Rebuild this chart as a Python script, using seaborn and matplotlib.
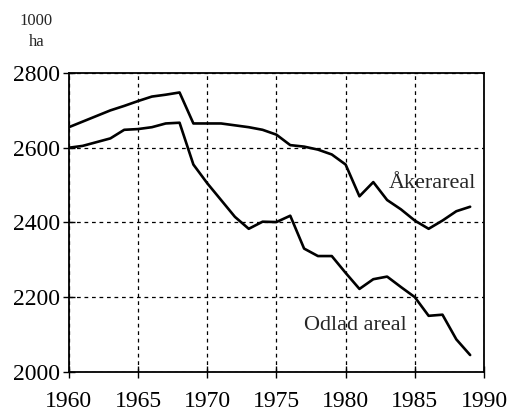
import pandas as pd
import matplotlib.pyplot as plt
import seaborn as sns

# Arealer i 1000 ha, 1960-1989
years = list(range(1960, 1990))
akerareal = [2655, 2670, 2685, 2700, 2712, 2725, 2737, 2742, 2748, 2665,
             2665, 2665, 2660, 2655, 2648, 2635, 2607, 2603, 2595, 2582,
             2555, 2470, 2508, 2460, 2435, 2405, 2383, 2405, 2430, 2442]
odlad_areal = [2600, 2605, 2615, 2625, 2648, 2650, 2655, 2665, 2667, 2555,
               2505, 2460, 2415, 2383, 2402, 2401, 2418, 2330, 2310, 2310,
               2265, 2222, 2248, 2255, 2227, 2200, 2150, 2153, 2087, 2045]

df = pd.DataFrame({'year': years, 'Åkerareal': akerareal, 'Odlad areal': odlad_areal})
long = df.melt(id_vars='year', var_name='serie', value_name='areal')

sns.set_style('ticks')
plt.rcParams['font.family'] = ['Liberation Serif', 'DejaVu Serif']

fig = plt.figure(figsize=(5.1, 4.15), dpi=100)
ax = fig.add_axes([0.135, 0.104, 0.814, 0.72])

sns.lineplot(data=long, x='year', y='areal', hue='serie',
             palette=['black', 'black'], linewidth=1.9, legend=False, ax=ax)

ax.set_xlim(1960, 1990)
ax.set_ylim(2000, 2800)
ax.set_xticks(range(1960, 1991, 5))
ax.set_yticks(range(2000, 2801, 200))
ax.tick_params(direction='inout', length=9, width=1, labelsize=17, colors='black')
ax.tick_params(axis='x', pad=9)
ax.tick_params(axis='y', pad=2)
ax.set_xlabel('')
ax.set_ylabel('')

for s in ax.spines.values():
    s.set_visible(True)
    s.set_color('black')
    s.set_linewidth(1.3)

ax.grid(True, color='black', linestyle=(0, (3, 3)), linewidth=0.9)

ax.text(1983.1, 2492, 'Åkerareal', fontsize=16)
ax.text(1977.0, 2112, 'Odlad areal', fontsize=16)

fig.text(0.071, 0.950, '1000', fontsize=12, ha='center', va='center')
fig.text(0.071, 0.898, 'ha', fontsize=12, ha='center', va='center')

fig.savefig('out.png', dpi=100)
